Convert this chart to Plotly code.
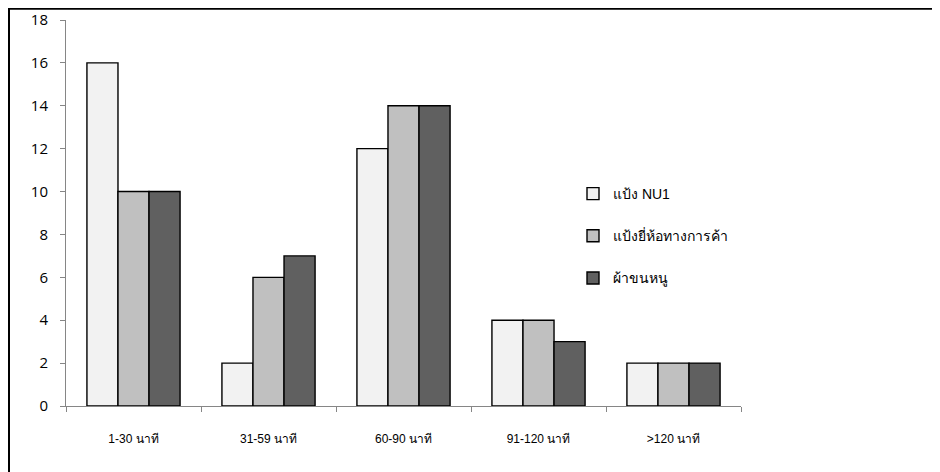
import plotly.graph_objects as go

categories = ["1-30 นาที", "31-59 นาที", "60-90 นาที", "91-120 นาที", ">120 นาที"]
series_names = ["แป้ง NU1", "แป้งยี่ห้อทางการค้า", "ผ้าขนหนู"]
nu1 = [16, 2, 12, 4, 2]
commercial = [10, 6, 14, 4, 2]
towel = [10, 7, 14, 3, 2]
colors = ["#f2f2f2", "#c0c0c0", "#606060"]
y_ticks = [0, 2, 4, 6, 8, 10, 12, 14, 16, 18]

W, H = 940, 472
OFF = 8  # browser body margin offset
# plot area in page pixels
L, R, T, B = 66 - OFF, 741 - OFF, 20 - OFF, 406 - OFF

fig = go.Figure()
for i, (name, vals) in enumerate(zip(series_names, [nu1, commercial, towel])):
    fig.add_trace(go.Bar(
        x=categories, y=vals, name=name, legendgroup=str(i),
        marker=dict(color=colors[i], line=dict(color="#000000", width=1.4)),
    ))

def px(x):
    return (x - L) / (R - L)

def py(y):
    return (B - y) / (B - T)

# outer chart border (left and top edges visible)
fig.add_shape(type="line", xref="paper", yref="paper",
              x0=px(0), x1=px(W + 10), y0=py(0.2), y1=py(0.2),
              line=dict(color="#000000", width=3))
fig.add_shape(type="line", xref="paper", yref="paper",
              x0=px(0.5), x1=px(0.5), y0=py(0), y1=py(H + 10),
              line=dict(color="#000000", width=3))

fig.update_layout(
    width=W, height=H,
    margin=dict(l=L, r=W - R, t=T, b=H - B, pad=0, autoexpand=False),
    paper_bgcolor="white", plot_bgcolor="white",
    barmode="group", bargap=0.31, bargroupgap=0,
    font=dict(family="Liberation Sans, Noto Sans, DejaVu Sans", color="#000000"),
    showlegend=True,
    legend=dict(x=px(573 - OFF), y=py(178 - OFF), xanchor="left", yanchor="top",
                tracegroupgap=21, font=dict(size=14), bgcolor="rgba(0,0,0,0)",
                itemwidth=30),
    xaxis=dict(
        type="category", showline=True, linecolor="#868686", linewidth=1,
        ticks="outside", ticklen=5, tickcolor="#868686", tickson="boundaries",
        tickfont=dict(size=12, family="Liberation Sans Narrow, Liberation Sans"),
        showgrid=False, zeroline=False, ticklabelstandoff=22, automargin=False,
    ),
    yaxis=dict(
        range=[0, 18], tickvals=y_ticks, showline=True, linecolor="#868686",
        linewidth=1, ticks="outside", ticklen=5, tickcolor="#868686",
        tickfont=dict(size=15, family="Open Sans, Noto Sans"), showgrid=False,
        zeroline=False, ticklabelstandoff=9, automargin=False,
    ),
)

fig.write_html("out.html")
